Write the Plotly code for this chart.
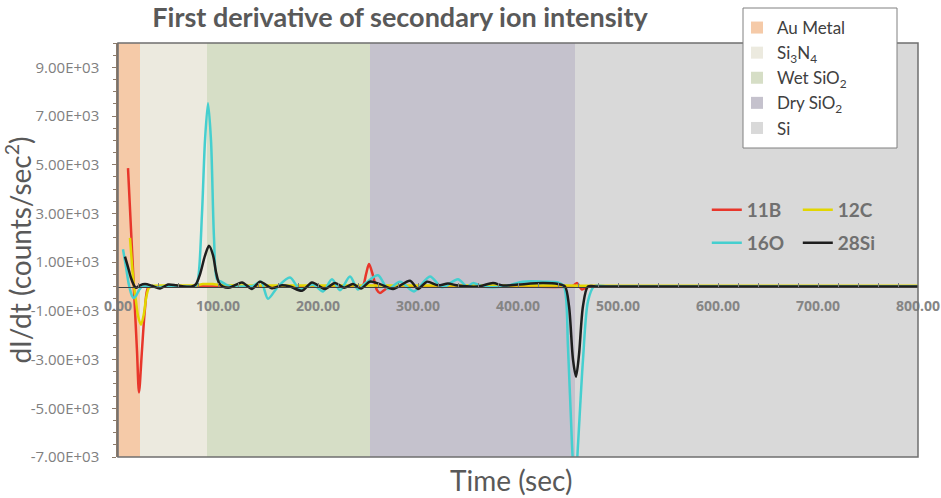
import plotly.graph_objects as go

# ---------------- data ----------------
time_11B = [10, 13, 16, 19, 21, 24, 27, 30, 35, 100, 200, 240, 245, 248, 251, 255, 259, 262, 266, 272, 280,
            400, 452, 456, 459, 464, 470, 500, 800]
val_11B = [4860, 2350, -150, -2650, -4350, -2600, -900, -50, 0, 0, 0, 0, 50, 500, 920, 450, -150, -270, -150, 0, 0,
           0, 0, 50, 150, -120, 0, 0, 0]

time_12C = [12, 14, 16, 18, 20, 23, 26, 28, 31, 35, 60, 78, 85, 95, 102, 150, 300, 450, 480, 800]
val_12C = [2000, 900, 0, -600, -1200, -1570, -1100, -500, -50, 30, 40, 50, 100, 100, 60, 40, 40, 40, 30, 30]

time_16O = [5, 8, 11, 14, 16, 18, 21, 24, 30, 40, 50, 60, 70, 77, 80, 84, 87, 90, 93, 96, 99, 103, 108, 115,
            125, 135, 143, 150, 160, 172, 182, 195, 205, 214, 222, 232, 240, 248, 260, 270, 282, 296, 312, 324,
            340, 349, 355, 365, 385, 405, 425, 440, 446, 450, 454, 457, 460, 465, 470, 476, 490, 600, 700, 800]
val_16O = [1530, 800, 50, -380, -470, -380, -150, 0, 0, -30, 20, 0, 0, 0, 300, 3000, 6000, 7530, 6000, 2000, 300,
           200, 80, 0, 0, 20, 200, -500, 0, 370, -120, 80, -200, 300, -150, 410, -120, 150, 460, -100, 200, -200,
           410, -30, 300, 0, 140, 0, 0, 200, 200, 170, 0, -2500, -6500, -8500, -6500, -3000, -600, 0, 0, 0, 0, 0]

time_28Si = [7, 10, 13, 16, 18, 22, 27, 34, 42, 50, 58, 66, 74, 78, 82, 87, 91, 95, 98, 101, 105, 112, 124, 134,
             142, 154, 164, 172, 184, 194, 207, 217, 226, 235, 243, 252, 262, 275, 292, 300, 309, 320, 330, 340,
             360, 375, 385, 400, 425, 440, 447, 451, 455, 458, 461, 465, 470, 480, 600, 700, 800]
val_28Si = [1230, 800, 350, 50, -50, 50, 100, 30, -80, 80, 50, 0, 0, 100, 500, 1270, 1670, 1290, 600, 150, 0, -40,
            170, -100, 200, -70, 50, 0, -170, 170, -100, 150, -50, 100, -80, 200, 100, -100, 240, -100, 200, 50,
            120, 40, 0, 140, 40, 80, 140, 100, 0, -800, -3000, -3700, -2800, -800, 0, 0, 0, 0, 0]

series_names = ["11B", "12C", "16O", "28Si"]
series_colors = ["#E8362B", "#E2D600", "#45CFCF", "#1E1E1E"]

layer_names = ["Au Metal", "Si<sub>3</sub>N<sub>4</sub>", "Wet SiO<sub>2</sub>", "Dry SiO<sub>2</sub>", "Si"]
layer_start = [0, 22, 89, 252, 457]
layer_end = [22, 89, 252, 457, 800]
layer_colors = ["#F5CAA8", "#ECEADF", "#D6DEC6", "#C5C2CD", "#D9D9D9"]

y_tickvals = [-7000, -5000, -3000, -1000, 1000, 3000, 5000, 7000, 9000]
y_ticktext = ["-7.00E+03", "-5.00E+03", "-3.00E+03", "-1.00E+03", "1.00E+03",
              "3.00E+03", "5.00E+03", "7.00E+03", "9.00E+03"]
x_tickvals = [0, 100, 200, 300, 400, 500, 600, 700, 800]
x_ticktext = ["0.00", "100.00", "200.00", "300.00", "400.00", "500.00", "600.00", "700.00", "800.00"]

y_range = [-7000, 10000]
x_range = [0, 800]

# ---------------- figure ----------------
W, H = 941, 498
L, R, T, B = 118, 23, 43, 41
PW, PH = W - L - R, H - T - B


def px_x(p):
    return (p - L) / PW


def px_y(p):
    return (H - B - p) / PH


fig = go.Figure()

# layer background bands
for s, e, c in zip(layer_start, layer_end, layer_colors):
    fig.add_shape(type="rect", xref="x", yref="paper", x0=s, x1=e, y0=0, y1=1,
                  fillcolor=c, line_width=0, layer="below")

# layer legend entries (legend2)
for n, c in zip(layer_names, layer_colors):
    fig.add_trace(go.Scatter(x=[None], y=[None], mode="markers", name=n, legend="legend2",
                             marker=dict(symbol="square", size=17, color=c), hoverinfo="skip"))

all_t = [time_11B, time_12C, time_16O, time_28Si]
all_v = [val_11B, val_12C, val_16O, val_28Si]
legends = ["legend", "legend", "legend3", "legend3"]
for name, col, t, v, lg in zip(series_names, series_colors, all_t, all_v, legends):
    fig.add_trace(go.Scatter(x=t, y=v, mode="lines", name=name, legend=lg,
                             line=dict(color=col, width=2.5, shape="spline", smoothing=0.8)))

zero_pos = (0 - y_range[0]) / (y_range[1] - y_range[0])

# plot frame
fig.add_shape(type="rect", xref="paper", yref="paper", x0=0, x1=1, y0=0, y1=1,
              line=dict(color="#6f6f6f", width=1.5), fillcolor="rgba(0,0,0,0)", layer="above")
# layer legend box
fig.add_shape(type="rect", xref="paper", yref="paper", x0=px_x(743), x1=px_x(897), y0=px_y(148), y1=px_y(8),
              line=dict(color="#808080", width=1), fillcolor="white", layer="above")

fig.update_layout(
    width=W, height=H,
    margin=dict(l=L, r=R, t=T, b=B, autoexpand=False),
    paper_bgcolor="white", plot_bgcolor="white",
    font=dict(family="Lato, Open Sans, sans-serif", color="#595959"),
    title=dict(text="<b>First derivative of secondary ion intensity</b>",
               x=400 / W, xanchor="center", xref="container",
               y=1 - 18 / H, yanchor="middle", yref="container",
               font=dict(size=27, color="#595959", family="Lato, Open Sans, sans-serif")),
    xaxis=dict(range=x_range, anchor="free", position=zero_pos,
               tickmode="array", tickvals=x_tickvals, ticktext=x_ticktext,
               ticks="inside", ticklen=4, tickcolor="#7f7f7f", tickwidth=1,
               minor=dict(dtick=20, tick0=0, ticks="inside", ticklen=4, tickcolor="#7f7f7f"),
               showline=True, linecolor="#404040", linewidth=1,
               showgrid=False, zeroline=False,
               ticklabelstandoff=7,
               tickfont=dict(size=14, color="#858585", family="Open Sans, sans-serif", weight="bold")),
    yaxis=dict(range=y_range, tickmode="array", tickvals=y_tickvals, ticktext=y_ticktext,
               ticks="outside", ticklen=4, tickcolor="#8c7b6b",
               minor=dict(dtick=500, tick0=0, ticks="outside", ticklen=3, tickcolor="#8c7b6b"),
               showline=True, linecolor="#8c7b6b", linewidth=1.5,
               showgrid=False, zeroline=False,
               ticklabelstandoff=10,
               tickfont=dict(size=15, color="#808080", family="Open Sans, sans-serif"),
               title=dict(text="dI/dt (counts/sec<sup>2</sup>)", standoff=1,
                          font=dict(size=28, color="#595959", family="Lato, Open Sans, sans-serif"))),
    legend=dict(x=0.736, y=px_y(210), xanchor="left", yanchor="middle", orientation="h",
                bgcolor="rgba(0,0,0,0)", entrywidth=46, entrywidthmode="pixels",
                font=dict(size=19, color="#707070", family="Lato, Open Sans, sans-serif", weight="bold")),
    legend3=dict(x=0.736, y=px_y(243), xanchor="left", yanchor="middle", orientation="h",
                 bgcolor="rgba(0,0,0,0)", entrywidth=46, entrywidthmode="pixels",
                 font=dict(size=19, color="#707070", family="Lato, Open Sans, sans-serif", weight="bold")),
    legend2=dict(x=px_x(737), y=px_y(10), xanchor="left", yanchor="top",
                 bgcolor="rgba(0,0,0,0)", borderwidth=0,
                 tracegroupgap=0, itemsizing="constant",
                 font=dict(size=17, color="#404040", family="Lato, Open Sans, sans-serif")),
    annotations=[dict(text="Time (sec)", xref="paper", yref="paper", x=px_x(511),
                      y=px_y(480), xanchor="center", yanchor="middle", showarrow=False,
                      font=dict(size=28, color="#595959", family="Lato, Open Sans, sans-serif"))],
    showlegend=True,
)

fig.write_html("out.html", config={"displayModeBar": False},
               post_script="document.body.style.margin='0';document.body.style.overflow='hidden';")
